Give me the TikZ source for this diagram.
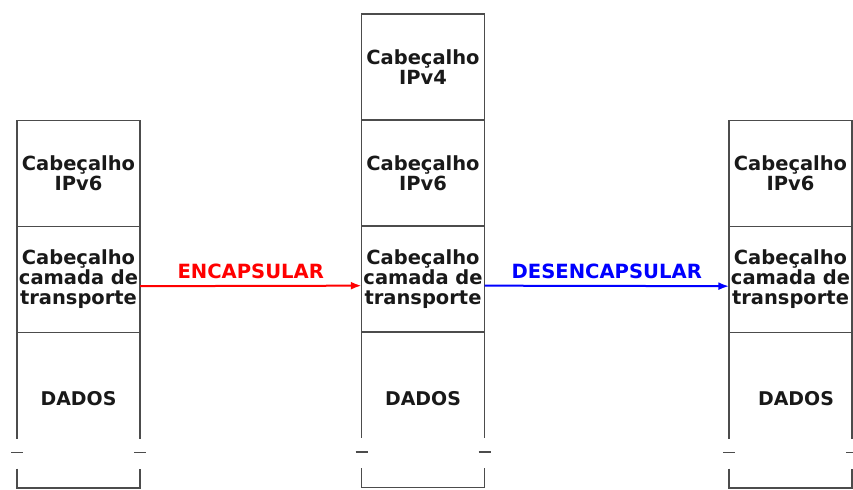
\documentclass[tikz,border=0pt]{standalone}
\usepackage{fontspec}
\setmainfont{DejaVu Sans}
\usetikzlibrary{arrows.meta,positioning,calc}
\tikzset{
caixa/.style={draw=black!70,line width=1.2pt,minimum width=92.25pt,minimum height=79.5pt,inner sep=0pt,outer sep=0pt,align=center,text=black!90,font=\bfseries\fontsize{14.6}{15}\selectfont},
dados/.style={inner sep=0pt,text=black!90,font=\bfseries\fontsize{14.2}{15}\selectfont},
borda/.style={draw=black!70,line width=1.2pt},
seta/.style={line width=1.5pt,-{Latex[length=8pt,width=6pt]}},
rotulo/.style={above=4.5pt,midway,inner sep=0pt,font=\bfseries\fontsize{14.7}{15}\selectfont}
}

\begin{document}
\begin{tikzpicture}[x=0.75pt,y=-0.75pt]
\useasboundingbox (0,0) rectangle (853,489);

% pacote original
\node[caixa] (lh) at (78.5,173.5) {Cabeçalho\\IPv6};
\node[caixa,below=0pt of lh] (lt) {Cabeçalho\\camada de\\transporte};
\node[dados] (ld) at (78.5,399) {DADOS};

% pacote encapsulado
\node[caixa] (m4) at (423,67) {Cabeçalho\\IPv4};
\node[caixa,below=0pt of m4] (mh) {Cabeçalho\\IPv6};
\node[caixa,below=0pt of mh] (mt) {Cabeçalho\\camada de\\transporte};
\node[dados] (md) at (423,399) {DADOS};

% pacote desencapsulado
\node[caixa] (rh) at (790.5,173.5) {Cabeçalho\\IPv6};
\node[caixa,below=0pt of rh] (rt) {Cabeçalho\\camada de\\transporte};
\node[dados] (rd) at (796,399) {DADOS};

% dados, com quebra
\foreach \s in {l,m,r}{
  \draw[borda] (\s t.south west) -- ++(0,106) (\s t.south east) -- ++(0,106);
  \draw[borda] ($(\s t.south west)+(-6,120)$) -- ++(12,0);
  \draw[borda] ($(\s t.south east)+(-6,120)$) -- ++(12,0);
  \draw[borda] ($(\s t.south west)+(0,136)$) |- ($(\s t.south east)+(0,155.5)$) -- ++(0,-19.5);
}

\draw[seta,red] ([yshift=-5pt]lt.east) -- ([yshift=-5pt]mt.west)
  node[rotulo] {ENCAPSULAR};
\draw[seta,blue] ([yshift=-5pt]mt.east) -- ([yshift=-5pt]rt.west)
  node[rotulo] {DESENCAPSULAR};
\end{tikzpicture}
\end{document}
